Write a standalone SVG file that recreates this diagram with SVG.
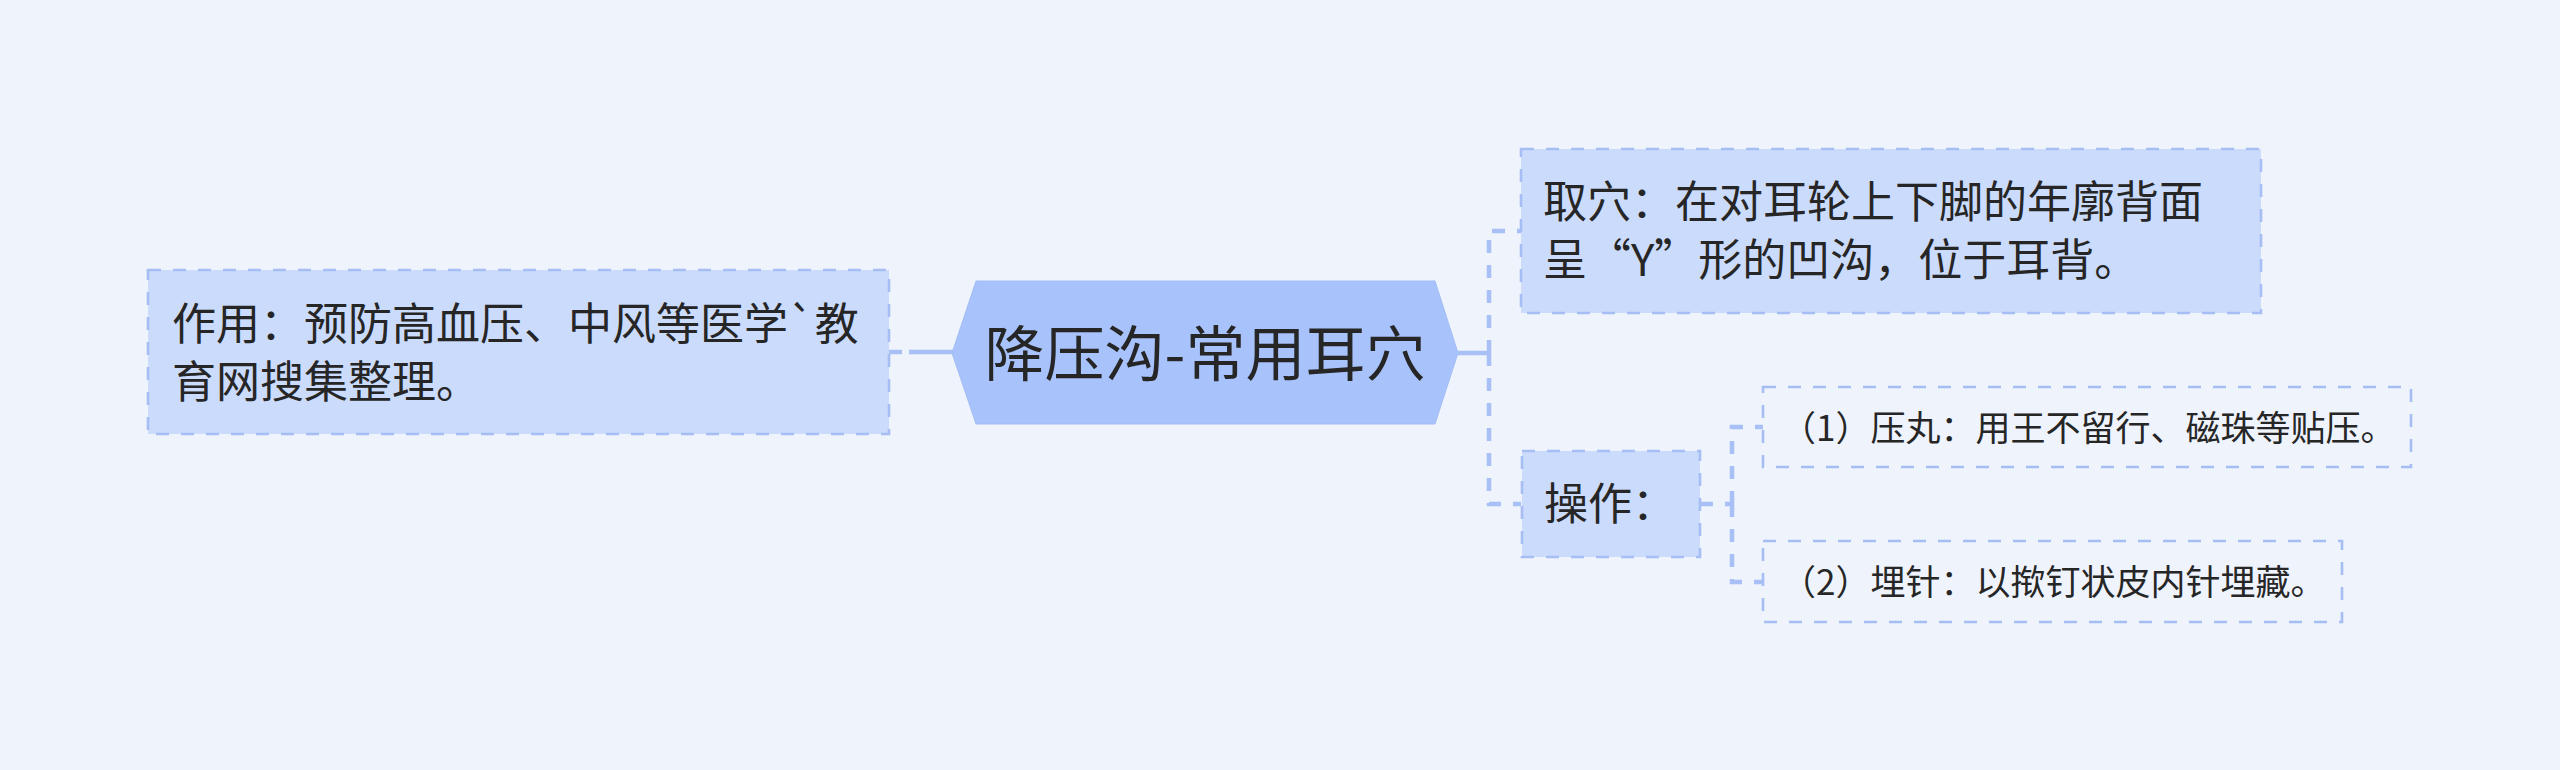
<svg xmlns="http://www.w3.org/2000/svg" width="2560" height="770" viewBox="0 0 2560 770">
<style>
.bg{fill:#EEF3FC}
.hex{fill:#A8C2FB;stroke:#A3BDF7;stroke-width:1}
.box{fill:#CBDBFC;stroke:#A6BEF4;stroke-width:2.6;stroke-dasharray:13 12}
.leaf{fill:none;stroke:#A6BEF4;stroke-width:2.6;stroke-dasharray:13 12}
.t{font-family:"Noto Sans CJK SC","Noto Sans",sans-serif;fill:#262626}
.solid{fill:none;stroke:#A8C0F6;stroke-width:4.5}
.dash{fill:none;stroke:#A8C0F6;stroke-width:4.5;stroke-dasharray:13 12}
</style>
<rect class="bg" x="0" y="0" width="2560" height="770"/>
<g id="connectors">
<line class="solid" x1="953" y1="352" x2="909" y2="352"/>
<line class="dash" x1="889" y1="352" x2="909" y2="352" stroke-dasharray="9 20"/>
<line class="solid" x1="1458" y1="353" x2="1489" y2="353"/>
<path class="dash" d="M1489,353 V231 H1521"/>
<path class="dash" d="M1489,353 V504 H1521"/>
<line class="dash" x1="1700" y1="504" x2="1732" y2="504"/>
<path class="dash" d="M1732,504 V427 H1763"/>
<path class="dash" d="M1732,504 V582 H1763"/>
</g>
<g id="root">
<polygon class="hex" points="976,281 1435,281 1458,353 1435,424 976,424 952,353"/>
<text class="t" x="1205" y="376" font-size="60" text-anchor="middle">降压沟-常用耳穴</text>
</g>
<g id="effect">
<rect class="box" x="148" y="270" width="741" height="164"/>
<text class="t" font-size="44"><tspan x="172" y="340">作用：预防高血压、中风等医学`教</tspan><tspan x="172" y="398">育网搜集整理。</tspan></text>
</g>
<g id="acupoint">
<rect class="box" x="1521" y="149" width="740" height="164"/>
<text class="t" font-size="44"><tspan x="1543" y="218">取穴：在对耳轮上下脚的年廓背面</tspan><tspan x="1543" y="276">呈“Y”形的凹沟，位于耳背。</tspan></text>
</g>
<g id="operation">
<rect class="box" x="1522" y="451" width="178" height="106"/>
<text class="t" x="1544" y="520" font-size="44">操作：</text>
</g>
<g id="op1">
<rect class="leaf" x="1763" y="387" width="648" height="80"/>
<text class="t" x="1781" y="441" font-size="35">（1）压丸：用王不留行、磁珠等贴压。</text>
</g>
<g id="op2">
<rect class="leaf" x="1763" y="541" width="579" height="81"/>
<text class="t" x="1781" y="595" font-size="35">（2）埋针：以揿钉状皮内针埋藏。</text>
</g>
</svg>
